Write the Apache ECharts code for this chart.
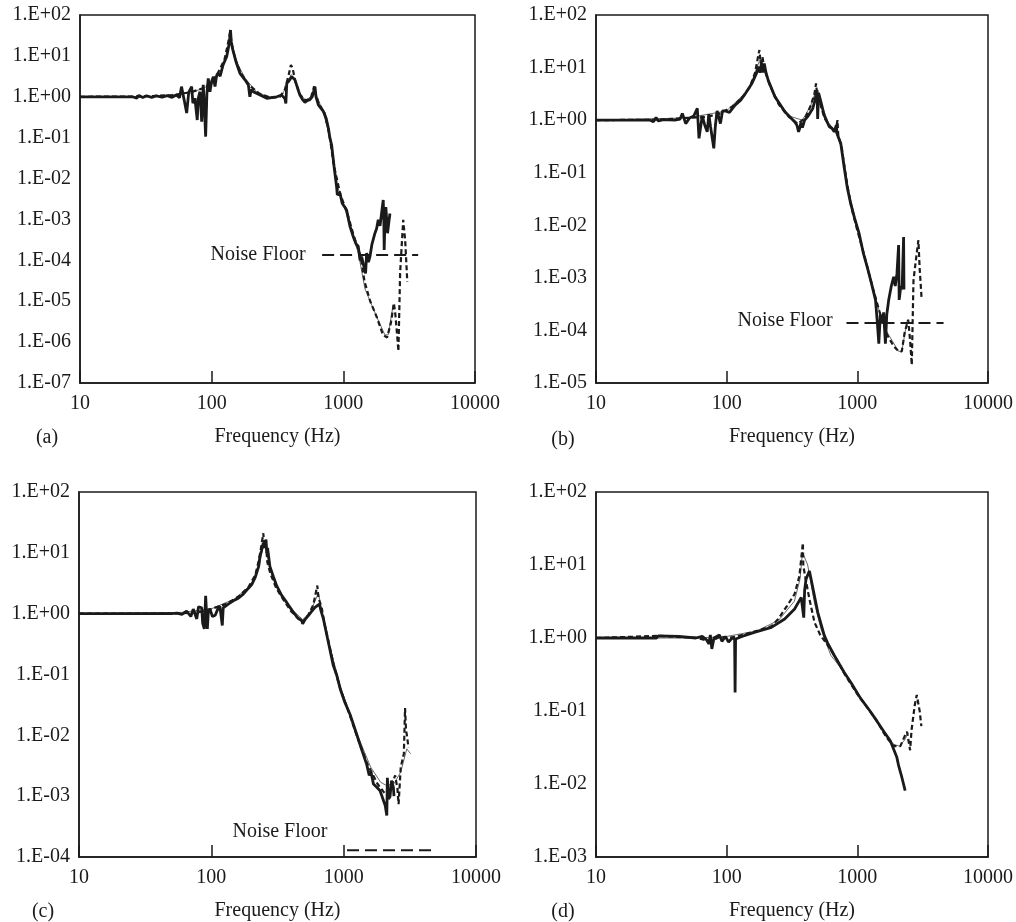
<!DOCTYPE html>
<html>
<head>
<meta charset="utf-8">
<script src="https://cdn.jsdelivr.net/npm/echarts@6/dist/echarts.min.js"></script>
<style>
  html, body { margin: 0; padding: 0; background: #fff; }
  #chart { width: 1016px; height: 922px; }
</style>
</head>
<body>
<div id="chart"></div>
<script>
// ---------- data: [frequency Hz, amplitude] ----------
var solidA = [[10,1],[25,1],[27,0.93],[28,1.08],[30,0.96],[32,1.06],[35,0.97],[38,1.05],[42,0.98],[46,1.07],[50,0.97],[54,1.1],[57,0.95],[59,1.77],[62,0.8],[64.6,0.4],[67,1.3],[70.5,1.77],[72,0.7],[74.6,0.92],[77.7,0.27],[79,0.9],[81.5,1.33],[84,0.245],[86.3,1.95],[88,0.6],[90,0.106],[92,1.2],[94.2,2.83],[97,1.33],[100,2.4],[103,3.1],[106,1.77],[109,3.3],[112,3.75],[116,3.2],[122,6.0],[130,9.6],[136,20],[139,43],[141,22],[144,15],[153,7.2],[164,3.75],[179,2.6],[190,1.95],[195,1.0],[200,1.5],[207,1.33],[233,1.1],[262,0.92],[312,1.0],[340,1.1],[350,1.22],[360,0.9],[366,0.69],[372,2.14],[385,2.4],[405,3.1],[429,2.6],[450,1.6],[468,1.1],[490,0.85],[511,0.73],[530,0.8],[557,0.85],[580,1.0],[598,1.1],[609,1.77],[620,1.0],[646,0.63],[705,0.44],[740,0.3],[770,0.17],[790,0.1],[815,0.066],[850,0.02],[889,6.3e-3],[900,4e-3],[942,4.4e-3],[980,2.5e-3],[1059,1.7e-3],[1120,7e-4],[1189,3.8e-4],[1250,2.5e-4],[1298,2.2e-4],[1340,1e-4],[1377,1.23e-4],[1420,8e-5],[1476,4.8e-5],[1503,1.5e-4],[1550,9e-5],[1592,1.23e-4],[1650,2.5e-4],[1738,4.6e-4],[1790,6e-4],[1841,9.8e-4],[1900,7e-4],[1951,1.4e-3],[2009,3e-3],[2030,1e-3],[2043,1.8e-4],[2070,1e-3],[2104,2e-3],[2167,4.6e-4],[2220,9e-4],[2260,1.4e-3]];
var dashedA = [[10,1],[30,1.02],[50,1.1],[70,1.3],[90,1.7],[110,3.5],[125,8],[133,20],[138,38],[142,20],[150,9],[165,4],[190,2],[230,1.2],[280,0.95],[330,1.0],[360,1.5],[385,3.5],[400,6.0],[412,5],[430,2.5],[470,1.1],[520,0.8],[570,1.0],[600,1.8],[615,1.2],[650,0.7],[720,0.4],[780,0.13],[850,0.02],[950,4e-3],[1060,1.6e-3],[1200,4e-4],[1350,1.3e-4],[1450,3e-5],[1600,1e-5],[1800,4e-6],[2000,1.5e-6],[2150,1.3e-6],[2300,3e-6],[2420,9e-6],[2480,5e-6],[2560,1.5e-6],[2620,6e-7],[2700,5e-5],[2850,9.8e-4],[2950,3e-4],[3060,3e-5]];
var thinA = [[10,1],[40,1.02],[70,1.25],[100,2],[120,4.5],[132,12],[137,28],[142,18],[155,7],[180,2.8],[220,1.3],[280,0.95],[340,1.05],[380,2.2],[400,3.5],[420,3],[460,1.3],[520,0.8],[580,1.1],[605,1.6],[630,1.0],[700,0.45],[780,0.12],[880,8e-3],[1000,2.5e-3],[1150,5e-4],[1300,1.5e-4],[1460,2e-5],[1790,4.2e-6],[2070,1.5e-6],[2190,1.5e-6],[2390,8e-6]];
var noiseA = [[690,1.35e-4],[3700,1.35e-4]];
var noiseLabelA = [225,1.35e-4];

var solidB = [[10,1],[26,1],[27.5,0.93],[28.8,1.12],[30,0.97],[33,1.02],[40,1.0],[44,1.05],[45.8,1.34],[48.6,0.86],[52,1.1],[56,1.2],[59.6,1.67],[61.4,0.45],[65,1.2],[68,0.8],[71,0.6],[73,1.3],[75.3,0.75],[79.7,0.29],[82,0.8],[84.5,1.5],[89.6,0.86],[93,1.5],[97.7,1.5],[105,1.4],[116,1.93],[128,2.4],[139,3.2],[156,5],[170,8],[175,10.4],[180,8],[185,12.5],[190,8],[194,12],[200,8],[208,5.7],[234,2.8],[279,1.44],[331,0.93],[345,0.8],[355,0.6],[362,0.69],[370,0.9],[380,0.72],[395,1.0],[420,1.2],[456,1.67],[470,2.2],[483,3.0],[492,3.75],[497,1.05],[505,3.3],[527,2.2],[560,1.2],[610,0.75],[640,0.7],[665,0.6],[690,0.8],[700,0.55],[747,0.36],[792,0.13],[840,0.05],[889,0.026],[950,0.014],[1030,7.1e-3],[1110,3e-3],[1191,1.6e-3],[1280,8e-4],[1377,3.8e-4],[1420,1.5e-4],[1460,5.6e-5],[1500,2e-4],[1545,1.36e-4],[1590,2.2e-4],[1640,5.6e-5],[1680,2e-4],[1738,3.8e-4],[1820,7e-4],[1897,1.05e-3],[1950,7e-4],[2010,1.2e-3],[2070,4.2e-3],[2090,3.8e-4],[2152,7e-4],[2200,6e-4],[2260,6e-3],[2275,6e-4]];
var dashedB = [[10,1],[30,1.02],[50,1.1],[70,1.15],[90,1.35],[110,1.8],[130,2.6],[150,4.2],[165,8],[172,14],[178,21.6],[182,12],[188,16],[195,9],[215,4.5],[250,2.0],[300,1.15],[350,0.85],[400,1.1],[440,1.9],[470,3.2],[483,5.0],[490,3.5],[510,2.4],[560,1.1],[620,0.75],[680,0.6],[705,1.0],[715,0.5],[760,0.3],[820,0.08],[900,0.022],[1000,8e-3],[1122,2.9e-3],[1300,7e-4],[1500,2e-4],[1700,8e-5],[1900,5e-5],[2070,4e-5],[2190,4e-5],[2300,9e-5],[2450,1.6e-4],[2540,6e-5],[2610,2.2e-5],[2690,9e-4],[2850,3e-3],[2934,5.2e-3],[3000,1.5e-3],[3100,4.2e-4]];
var thinB = [[10,1],[50,1.1],[100,1.5],[150,4],[170,10],[180,14],[195,9],[230,3],[300,1.2],[380,1.0],[440,1.9],[480,3.5],[510,2.5],[600,0.9],[680,0.6],[760,0.3],[850,0.05],[1000,9e-3],[1122,2.9e-3],[1300,7e-4],[1500,2e-4],[1700,9e-5],[2070,4e-5],[2190,4e-5],[2400,1.5e-4]];
var noiseB = [[826,1.38e-4],[4570,1.38e-4]];
var noiseLabelB = [280,1.5e-4];

var solidC = [[10,1],[50,1.0],[55,1.02],[60,0.97],[65,1.1],[70,0.9],[73,1.19],[77.6,0.82],[80,1.3],[84.6,1.25],[86,0.7],[88.5,0.56],[90.6,1.96],[93.3,0.56],[95,1.1],[97.7,1.19],[102,0.9],[107,0.94],[112,1.2],[116,1.33],[121,0.64],[123,1.25],[135,1.45],[146.5,1.63],[160,1.8],[174.5,2.1],[190,2.6],[202,3.0],[215,4.0],[220,4.7],[228,6],[233,8.8],[240,11],[247,14.6],[252,12],[259,16.5],[262,10],[266,12],[277,6],[295,4],[312,2.86],[340,2.0],[371,1.53],[417,1.05],[450,0.85],[482,0.77],[490,0.68],[510,0.8],[541,0.93],[575,1.1],[608,1.27],[655,1.44],[675,1.1],[703,0.82],[766,0.34],[835,0.14],[887,0.097],[940,0.059],[1020,0.035],[1118,0.022],[1255,0.0103],[1380,5.5e-3],[1494,3.3e-3],[1560,2.2e-3],[1610,2.5e-3],[1678,1.58e-3],[1780,1.4e-3],[1884,1.23e-3],[1980,9e-4],[2060,7e-4],[2118,4.8e-4],[2140,2e-3],[2180,9e-4],[2240,9.8e-4],[2300,1.8e-3],[2375,1.4e-3],[2400,1e-3]];
var dashedC = [[10,1],[50,1.0],[80,1.05],[100,1.2],[130,1.45],[160,1.9],[190,2.7],[215,4.3],[230,8],[240,14],[247,21],[252,12],[258,15],[265,7],[280,4.5],[310,2.6],[350,1.7],[400,1.1],[450,0.85],[490,0.72],[540,0.95],[590,1.4],[632,2.9],[645,1.8],[680,1.3],[720,0.65],[780,0.3],[850,0.13],[950,0.055],[1100,0.023],[1300,8e-3],[1500,3.5e-3],[1800,1.6e-3],[2050,1.1e-3],[2200,1.3e-3],[2300,1.5e-3],[2450,2.2e-3],[2550,1.3e-3],[2600,7.4e-4],[2700,3e-3],[2850,5e-3],[2910,0.028],[2960,0.012],[3000,0.0103],[3090,6.3e-3]];
var thinC = [[10,1],[60,1.05],[100,1.2],[150,1.75],[200,3],[230,6],[245,12],[255,15],[265,9],[290,4],[350,1.8],[420,1.1],[490,0.8],[560,1.05],[620,1.8],[645,2.2],[670,1.4],[720,0.6],[800,0.25],[950,0.06],[1100,0.025],[1300,9e-3],[1600,3e-3],[1900,1.7e-3],[2100,1.5e-3],[2400,1.6e-3],[2700,2.5e-3],[3000,6e-3],[3200,5e-3]];
var noiseC = [[1060,1.29e-4],[4900,1.29e-4]];
var noiseLabelC = [330,2.6e-4];

var solidD = [[10,1],[29,1],[30,1.07],[43,1.05],[58,1.0],[65,1.05],[70,0.95],[73,0.83],[75,1.1],[77,0.71],[80,1.0],[82,0.97],[88,1.1],[92,0.9],[97.7,1.05],[103.5,0.88],[110,1.0],[115,0.97],[116,0.18],[117,0.97],[131,1.05],[165,1.2],[220,1.4],[278,1.82],[331,2.5],[372,3.6],[385,3.8],[389,1.9],[395,4.5],[405,6.4],[430,8.3],[456,4.9],[498,2.25],[559,1.08],[593,0.85],[665,0.58],[792,0.34],[900,0.24],[1059,0.149],[1250,0.1],[1418,0.072],[1600,0.052],[1787,0.039],[2009,0.023],[2070,0.0178],[2200,0.012],[2323,8.1e-3]];
var dashedD = [[10,1],[30,1.07],[60,1.0],[75,0.9],[90,1.05],[100,1.0],[120,1.05],[170,1.25],[220,1.45],[248,1.82],[290,2.76],[331,4.0],[360,7],[375,14],[383,20],[386,9.7],[405,6],[430,3.4],[470,1.64],[520,1.1],[593,0.8],[700,0.5],[800,0.32],[1000,0.17],[1200,0.11],[1418,0.072],[1650,0.045],[1897,0.033],[2135,0.033],[2300,0.045],[2400,0.052],[2535,0.029],[2600,0.055],[2750,0.12],[2850,0.166],[2934,0.17],[3000,0.1],[3090,0.062]];
var thinD = [[10,1],[60,1.0],[100,1.05],[170,1.25],[250,1.75],[330,3.2],[365,6.5],[380,15],[417,10],[470,3],[527,1.33],[626,0.58],[700,0.45],[850,0.29],[1000,0.18],[1200,0.11],[1418,0.072],[1650,0.048],[1897,0.035],[2100,0.033],[2300,0.04],[2450,0.05]];

var yRanges = [[1e-7, 1e2], [1e-5, 1e2], [1e-4, 1e2], [1e-3, 1e2]];
var tags = ['(a)', '(b)', '(c)', '(d)'];

// ---------- layout ----------
var gridBoxes = [
  { left: 80, top: 15, width: 395, height: 368 },
  { left: 596, top: 15, width: 396, height: 368 },
  { left: 79, top: 492, width: 397, height: 368 },
  { left: 596, top: 492, width: 396, height: 368 }
];
var tagPos = [[47, 438], [563, 440], [43, 912], [563, 912]];

var FONT = 'Liberation Serif';
var ink = '#1a1a1a';

function sciLabel(v) {
  var e = Math.round(Math.log10(v));
  var a = Math.abs(e);
  return '1.E' + (e < 0 ? '-' : '+') + (a < 10 ? '0' : '') + a;
}

var panels = [
  { solid: solidA, dashed: dashedA, thin: thinA, noise: noiseA, noiseLabel: noiseLabelA },
  { solid: solidB, dashed: dashedB, thin: thinB, noise: noiseB, noiseLabel: noiseLabelB },
  { solid: solidC, dashed: dashedC, thin: thinC, noise: noiseC, noiseLabel: noiseLabelC },
  { solid: solidD, dashed: dashedD, thin: thinD, noise: null, noiseLabel: null }
];

var grids = [], xAxes = [], yAxes = [], series = [], graphics = [];

panels.forEach(function(p, i) {
  var g = gridBoxes[i];
  grids.push({
    left: g.left, top: g.top, width: g.width, height: g.height,
    show: true, borderColor: ink, borderWidth: 1.5, backgroundColor: 'transparent'
  });
  xAxes.push({
    type: 'log', logBase: 10, gridIndex: i, min: 10, max: 10000,
    name: 'Frequency (Hz)', nameLocation: 'middle', nameGap: 44,
    nameTextStyle: { fontFamily: FONT, fontSize: 20, color: ink },
    axisLine: { show: true, lineStyle: { color: ink, width: 1.5 } },
    axisTick: { show: true, inside: true, length: 12, lineStyle: { color: ink, width: 1.5 } },
    axisLabel: { fontFamily: FONT, fontSize: 20, color: ink, margin: 11,
      formatter: function(v) { return String(Math.round(v)); } },
    splitLine: { show: false },
    minorTick: { show: false }
  });
  yAxes.push({
    type: 'log', logBase: 10, gridIndex: i, min: yRanges[i][0], max: yRanges[i][1], splitNumber: 10,
    axisLine: { show: true, lineStyle: { color: ink, width: 1.5 } },
    axisTick: { show: false },
    axisLabel: { fontFamily: FONT, fontSize: 20, color: ink, margin: 9, formatter: sciLabel },
    splitLine: { show: false },
    minorTick: { show: false }
  });

  // thin model line, dashed model line, measured (thick) line
  series.push({
    type: 'line', xAxisIndex: i, yAxisIndex: i, data: p.thin,
    showSymbol: false, silent: true, z: 2,
    lineStyle: { color: '#444', width: 0.8 }
  });
  series.push({
    type: 'line', xAxisIndex: i, yAxisIndex: i, data: p.dashed,
    showSymbol: false, silent: true, z: 3,
    lineStyle: { color: ink, width: 2.2, type: [5, 3] }
  });
  series.push({
    type: 'line', xAxisIndex: i, yAxisIndex: i, data: p.solid,
    showSymbol: false, silent: true, z: 4,
    lineStyle: { color: ink, width: 2.8 }
  });
  if (p.noise) {
    series.push({
      type: 'line', xAxisIndex: i, yAxisIndex: i, data: p.noise,
      showSymbol: false, silent: true, z: 5,
      lineStyle: { color: ink, width: 2, type: [12, 6] },
      markPoint: {
        silent: true,
        symbol: 'rect', symbolSize: 1,
        itemStyle: { color: 'transparent' },
        label: { show: true, position: 'inside', formatter: 'Noise Floor',
          fontFamily: FONT, fontSize: 20, color: ink },
        data: [{ coord: p.noiseLabel }]
      }
    });
  }

  graphics.push({
    type: 'text', x: tagPos[i][0], y: tagPos[i][1],
    style: { text: tags[i], font: '20px "' + FONT + '"', fill: ink, align: 'center', verticalAlign: 'middle' }
  });
});

var chart = echarts.init(document.getElementById('chart'));
chart.setOption({
  animation: false,
  backgroundColor: '#fff',
  grid: grids,
  xAxis: xAxes,
  yAxis: yAxes,
  series: series,
  graphic: graphics
});
</script>
</body>
</html>
